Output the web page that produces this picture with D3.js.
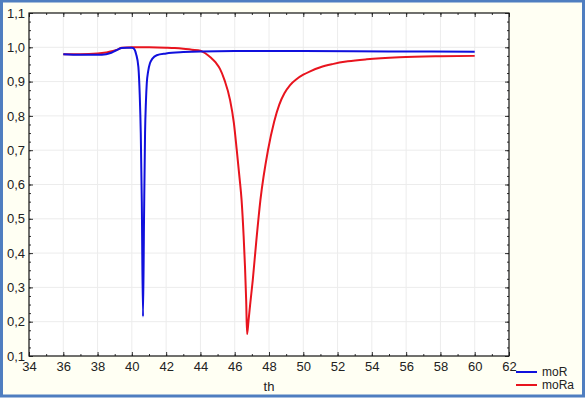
<!DOCTYPE html>
<html>
<head>
<meta charset="utf-8">
<script src="https://cdn.jsdelivr.net/npm/d3@7"></script>
<style>
  body { margin: 0; background: #fff; }
  text { font-family: "Liberation Sans", Arial, sans-serif; }
</style>
</head>
<body>
<div id="chart-area"></div>
<script>

// Data
var thR  = [36, 37, 38, 38.5, 38.8, 39.0, 39.2, 39.4, 39.7, 40.0, 40.1, 40.25, 40.38, 40.46, 40.52, 40.58, 40.65,
            40.71, 40.77, 40.82, 40.87, 40.95, 41.06, 41.2, 41.45, 42, 43, 44, 46, 50, 55, 60];
var moR  = [0.980, 0.978, 0.978, 0.980, 0.984, 0.989, 0.994, 0.998, 0.999, 0.999, 0.997, 0.980, 0.943, 0.86, 0.75, 0.55, 0.215,
            0.50, 0.75, 0.84, 0.895, 0.93, 0.954, 0.967, 0.977, 0.982, 0.986, 0.988, 0.989, 0.989, 0.988, 0.987];

var thRa = [36, 37, 38, 38.5, 38.9, 39.2, 39.4, 40, 41, 42, 42.5, 43, 43.5, 44, 44.3, 44.6, 44.9, 45.14, 45.4, 45.73, 45.95,
            46.12, 46.28, 46.4, 46.52, 46.6, 46.67, 46.72,
            46.8, 46.9, 47.05, 47.25, 47.5, 47.94, 48.3, 48.6, 48.9, 49.23, 49.6, 50.0, 50.4, 51.0, 51.7, 52.6, 53.7, 55.6, 58, 60];
var moRa = [0.980, 0.980, 0.982, 0.985, 0.989, 0.994, 0.999, 1.0, 1.0, 0.999, 0.998, 0.996, 0.993, 0.990, 0.982, 0.970, 0.955, 0.937, 0.905, 0.846, 0.78,
            0.70, 0.62, 0.555, 0.45, 0.36, 0.26, 0.164,
            0.20, 0.25, 0.32, 0.43, 0.555, 0.70, 0.783, 0.833, 0.866, 0.890, 0.907, 0.920, 0.930, 0.942, 0.951, 0.959, 0.965, 0.971, 0.974, 0.975];

var xTicks = [34, 36, 38, 40, 42, 44, 46, 48, 50, 52, 54, 56, 58, 60, 62];
var yTicks = [0.1, 0.2, 0.3, 0.4, 0.5, 0.6, 0.7, 0.8, 0.9, 1.0, 1.1];

var seriesNames = ["moR", "moRa"];
var seriesColors = ["#1010dd", "#e8141e"];

// SVG drawing area
var W = 585, H = 398;
var margin = {top: 13, right: 76, bottom: 42, left: 29};
var width = W - margin.left - margin.right,
    height = H - margin.top - margin.bottom;

var svg = d3.select("#chart-area").append("svg")
    .attr("width", W)
    .attr("height", H);

// frame
svg.append("rect")
    .attr("x", 1.5).attr("y", 1).attr("width", W - 3).attr("height", H - 3)
    .attr("fill", "#fffff3")
    .attr("stroke", "#4f7ec0")
    .attr("stroke-width", 3);

var g = svg.append("g")
    .attr("transform", `translate(${margin.left}, ${margin.top})`);

g.append("rect")
    .attr("width", width).attr("height", height)
    .attr("fill", "#fff");

// Scales
var x = d3.scaleLinear().domain([34, 62]).range([0, width]);
var y = d3.scaleLinear().domain([0.1, 1.1]).range([height, 0]);

var fmt = d => d3.format(".1f")(d).replace(".", ",");

// grid
g.append("g").selectAll("line").data(xTicks.slice(1, -1)).join("line")
    .attr("x1", d => x(d)).attr("x2", d => x(d))
    .attr("y1", 0).attr("y2", height)
    .attr("stroke", "#ececec");
g.append("g").selectAll("line").data(yTicks.slice(1, -1)).join("line")
    .attr("y1", d => y(d)).attr("y2", d => y(d))
    .attr("x1", 0).attr("x2", width)
    .attr("stroke", "#ececec");

// minor ticks
var xMinor = d3.range(34, 62.01, 1);
var yMinor = d3.range(0.1, 1.1001, 0.025);

function ticksInward(axisFn, scale, vals, size, transform) {
    g.append("g")
        .attr("transform", transform)
        .call(axisFn(scale).tickValues(vals).tickSize(size).tickFormat(""))
        .call(s => s.select(".domain").remove())
        .call(s => s.selectAll("line").attr("stroke", "#333"));
}
ticksInward(d3.axisTop, x, xMinor, 2, `translate(0,${height})`);
ticksInward(d3.axisBottom, x, xMinor, 2, "translate(0,0)");
ticksInward(d3.axisRight, y, yMinor, 2, "translate(0,0)");
ticksInward(d3.axisLeft, y, yMinor, 2, `translate(${width},0)`);
ticksInward(d3.axisTop, x, xTicks, 4, `translate(0,${height})`);
ticksInward(d3.axisBottom, x, xTicks, 4, "translate(0,0)");
ticksInward(d3.axisRight, y, yTicks, 4, "translate(0,0)");
ticksInward(d3.axisLeft, y, yTicks, 4, `translate(${width},0)`);

// labels
var xAxis = g.append("g")
    .attr("transform", `translate(0,${height})`)
    .call(d3.axisBottom(x).tickValues(xTicks).tickSize(0).tickPadding(6));
xAxis.select(".domain").remove();
xAxis.selectAll("text").attr("font-size", 13).attr("fill", "#222")
    .attr("font-family", "Liberation Sans, Arial, sans-serif");

var yAxis = g.append("g")
    .call(d3.axisLeft(y).tickValues(yTicks).tickSize(0).tickPadding(4).tickFormat(fmt));
yAxis.select(".domain").remove();
yAxis.selectAll("text").attr("font-size", 13).attr("fill", "#222")
    .attr("font-family", "Liberation Sans, Arial, sans-serif");

g.append("rect")
    .attr("width", width).attr("height", height)
    .attr("fill", "none").attr("stroke", "#111").attr("stroke-width", 1.2);

// lines
var series = [
    {name: seriesNames[0], xs: thR, ys: moR, color: seriesColors[0]},
    {name: seriesNames[1], xs: thRa, ys: moRa, color: seriesColors[1]}
];

var line = d3.line()
    .x(d => x(d[0]))
    .y(d => y(d[1]))
    .curve(d3.curveMonotoneX);

g.selectAll(".series").data(series.slice().reverse()).join("path")
    .attr("class", "series")
    .attr("d", s => line(s.xs.map((v, i) => [v, s.ys[i]])))
    .attr("fill", "none")
    .attr("stroke", s => s.color)
    .attr("stroke-width", 2);

// axis title
svg.append("text")
    .attr("x", margin.left + x(48)).attr("y", 391)
    .attr("text-anchor", "middle")
    .attr("font-size", 13).attr("fill", "#222")
    .text("th");

// legend
var leg = svg.append("g").attr("transform", "translate(516,372)");
series.forEach((s, i) => {
    leg.append("line")
        .attr("x1", 0).attr("x2", 21)
        .attr("y1", i * 13).attr("y2", i * 13)
        .attr("stroke", s.color).attr("stroke-width", 2);
    leg.append("text")
        .attr("x", 26).attr("y", i * 13 + 4)
        .attr("font-size", 12).attr("fill", "#222")
        .text(s.name);
});

</script>
</body>
</html>
